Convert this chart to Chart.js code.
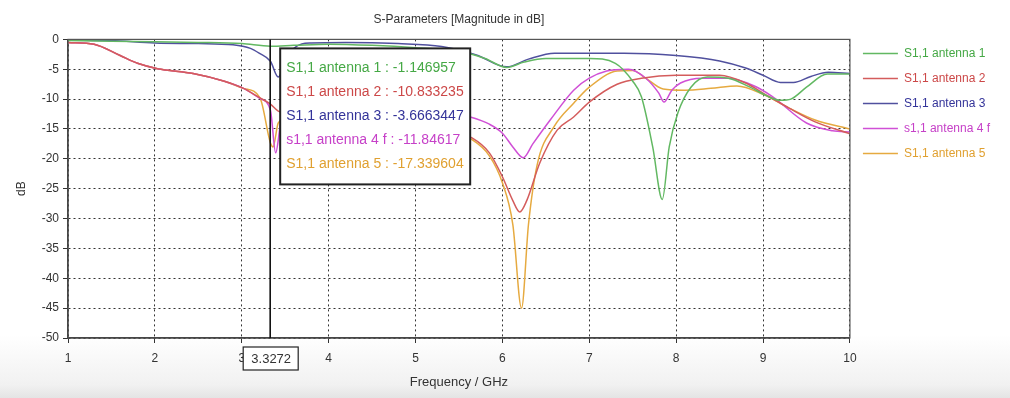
<!DOCTYPE html>
<html>
<head>
<meta charset="utf-8">
<script src="https://cdn.jsdelivr.net/npm/chart.js"></script>
<style>
  html, body { margin: 0; padding: 0; }
  body { width: 1010px; height: 398px; overflow: hidden;
         background: linear-gradient(to bottom, #fff 0px, #fff 335px, #f1f1f1 385px, #e4e4e4 398px); }
</style>
</head>
<body>
<canvas id="myChart" width="1010" height="398"></canvas>
<script>
// S11 curves (GHz / dB)
const ant1Freq = [1, 1.5, 2, 2.5, 3, 3.33, 3.6, 4, 4.5, 5, 5.5, 5.8, 6.05, 6.25, 6.5, 7.0, 7.3, 7.5, 7.6, 7.73, 7.84, 7.92, 8.02, 8.17, 8.36, 8.6, 8.85, 9.05, 9.2, 9.32, 9.5, 9.74, 10];
const ant1Db   = [-0.2, -0.3, -0.4, -0.5, -0.7, -1.15, -1.0, -0.8, -1.0, -1.4, -2.0, -3.2, -4.7, -3.8, -3.2, -3.2, -4.0, -7.0, -9.6, -18, -26.8, -18, -12.3, -8.0, -6.3, -6.5, -8.0, -9.5, -10.2, -10.0, -8.0, -5.8, -5.8];

const ant2Freq = [1, 1.3, 1.6, 1.8, 2.03, 2.44, 2.8, 3.02, 3.21, 3.33, 3.42, 3.6, 4, 4.5, 5, 5.4, 5.65, 5.85, 6.0, 6.12, 6.2, 6.28, 6.43, 6.63, 6.82, 7.0, 7.32, 7.6, 8.0, 8.5, 8.8, 9.0, 9.3, 9.6, 10];
const ant2Db   = [-0.5, -0.8, -2.7, -4.0, -4.9, -5.7, -7.0, -8.2, -9.8, -10.83, -12.0, -12.5, -12.8, -13.2, -14.0, -15.3, -16.5, -19.0, -23.0, -27.0, -28.9, -27.0, -20.7, -15.2, -13.0, -10.5, -7.5, -6.5, -6.0, -6.0, -7.3, -9.0, -11.5, -13.8, -15.8];

const ant3Freq = [1, 1.5, 2, 2.5, 2.9, 3.1, 3.2, 3.33, 3.42, 3.5, 3.6, 3.8, 4.2, 4.8, 5.3, 5.7, 6.05, 6.3, 6.6, 7.4, 8.0, 8.5, 8.8, 9.0, 9.2, 9.35, 9.55, 9.75, 10];
const ant3Db   = [-0.1, -0.2, -0.6, -0.7, -0.9, -1.5, -2.3, -3.67, -6.3, -4.0, -1.5, -0.6, -0.5, -0.7, -1.2, -2.6, -4.6, -3.3, -2.3, -2.3, -2.7, -3.6, -4.8, -6.0, -7.2, -7.2, -6.2, -5.5, -5.7];

const ant4Freq = [1, 1.3, 1.6, 1.8, 2.03, 2.44, 2.8, 3.02, 3.21, 3.33, 3.39, 3.45, 3.6, 4, 4.5, 5, 5.4, 5.63, 5.85, 6.0, 6.12, 6.24, 6.35, 6.55, 6.82, 7.0, 7.2, 7.45, 7.65, 7.8, 7.86, 7.95, 8.05, 8.3, 8.6, 8.9, 9.1, 9.5, 9.8, 10];
const ant4Db   = [-0.5, -0.8, -2.7, -4.0, -4.9, -5.7, -7.0, -8.2, -9.9, -11.85, -19.0, -14.0, -11.5, -10.8, -11.0, -11.6, -12.3, -13.0, -14.2, -15.7, -18.0, -19.8, -17.5, -13.5, -8.5, -6.5, -5.3, -5.0, -6.5, -9.0, -10.5, -8.5, -7.3, -6.5, -6.5, -7.8, -9.5, -14.0, -15.3, -15.5];

const ant5Freq = [1, 1.3, 1.6, 1.8, 2.03, 2.44, 2.8, 3.02, 3.21, 3.33, 3.36, 3.42, 3.55, 4, 4.5, 5, 5.4, 5.65, 5.85, 6.0, 6.12, 6.22, 6.3, 6.4, 6.6, 6.82, 7.0, 7.32, 7.5, 7.65, 7.85, 8.1, 8.4, 8.7, 9.0, 9.3, 9.6, 10];
const ant5Db   = [-0.5, -0.8, -2.7, -4.0, -4.9, -5.7, -7.0, -8.2, -9.8, -17.34, -18.0, -14.0, -13.0, -13.0, -13.5, -14.3, -15.5, -16.8, -19.5, -24.0, -31.0, -45.0, -31.0, -21.0, -14.5, -10.7, -8.0, -5.3, -5.2, -6.5, -8.3, -8.5, -8.2, -7.8, -9.2, -11.5, -13.5, -15.0];

const seriesNames = ["S1,1 antenna 1", "S1,1 antenna 2", "S1,1 antenna 3", "s1,1 antenna 4 f", "S1,1 antenna 5"];
const lineColors  = ["#62b862", "#d45c5c", "#50509e", "#d050d6", "#e6aa40"];
const textColors  = ["#45a845", "#cc4848", "#333399", "#c640c8", "#e0a030"];

const markerFreq   = 3.3272;
const markerValues = ["-1.146957", "-10.833235", "-3.6663447", "-11.84617", "-17.339604"];

const freqRange = [1, 10];
const dbRange   = [-50, 0];

const allFreq = [ant1Freq, ant2Freq, ant3Freq, ant4Freq, ant5Freq];
const allDb   = [ant1Db, ant2Db, ant3Db, ant4Db, ant5Db];

const fontFam = '"Liberation Sans", Arial, sans-serif';

var datasets = [];
for (let i = 0; i < seriesNames.length; i++) {
    var pts = [];
    for (let j = 0; j < allFreq[i].length; j++) {
        pts.push({ x: allFreq[i][j], y: allDb[i][j] });
    }
    datasets.push({
        label: seriesNames[i],
        data: pts,
        borderColor: lineColors[i],
        backgroundColor: lineColors[i],
        borderWidth: 1.5,
        pointRadius: 0,
        cubicInterpolationMode: 'monotone',
        fill: false
    });
}

// frame, marker line, marker value box
const markerPlugin = {
    id: 'marker',
    afterLayout(chart) {
        chart.legend.top -= 5;
        chart.legend.bottom -= 5;
    },
    afterDraw(chart) {
        const ctx = chart.ctx;
        const a = chart.chartArea;
        const px = chart.scales.x.getPixelForValue(markerFreq);
        ctx.save();

        ctx.strokeStyle = '#555';
        ctx.lineWidth = 1.2;
        ctx.strokeRect(a.left, a.top, a.right - a.left, a.bottom - a.top);

        ctx.strokeStyle = '#111';
        ctx.lineWidth = 1.6;
        ctx.beginPath();
        ctx.moveTo(px, a.top);
        ctx.lineTo(px, a.bottom);
        ctx.stroke();

        // frequency label on the x axis
        ctx.fillStyle = '#fff';
        ctx.fillRect(px - 27, a.bottom + 9, 55, 23);
        ctx.strokeStyle = '#222';
        ctx.lineWidth = 1.2;
        ctx.strokeRect(px - 27, a.bottom + 9, 55, 23);
        ctx.fillStyle = '#333';
        ctx.font = '13px ' + fontFam;
        ctx.textAlign = 'center';
        ctx.textBaseline = 'middle';
        ctx.fillText(String(markerFreq), px + 1, a.bottom + 21);

        // value box
        const bx = px + 10, by = a.top + 9, bw = 190, bh = 136;
        ctx.fillStyle = '#fff';
        ctx.fillRect(bx, by, bw, bh);
        ctx.strokeStyle = '#222';
        ctx.lineWidth = 2;
        ctx.strokeRect(bx, by, bw, bh);
        ctx.font = '14px ' + fontFam;
        ctx.textAlign = 'left';
        for (let i = 0; i < seriesNames.length; i++) {
            ctx.fillStyle = textColors[i];
            ctx.fillText(seriesNames[i] + ' : ' + markerValues[i], bx + 6, by + 20 + i * 24);
        }
        ctx.restore();
    }
};

new Chart("myChart", {
    type: "line",
    data: { datasets: datasets },
    options: {
        responsive: false,
        animation: false,
        events: [],
        layout: { padding: { left: 0, right: 10, top: 0, bottom: 0 } },
        plugins: {
            tooltip: { enabled: false },
            title: {
                display: true,
                text: "S-Parameters [Magnitude in dB]",
                fullSize: false,
                color: '#333',
                font: { family: fontFam, size: 12, weight: 'normal' },
                padding: { top: 12, bottom: 13 }
            },
            legend: {
                position: 'right',
                align: 'start',
                fullSize: false,
                labels: {
                    usePointStyle: true,
                    pointStyle: 'line',
                    pointStyleWidth: 35,
                    padding: 13,
                    font: { family: fontFam, size: 12 },
                    generateLabels(chart) {
                        const items = Chart.defaults.plugins.legend.labels.generateLabels(chart);
                        items.forEach((it, i) => { it.fontColor = textColors[i]; it.pointStyle = 'line'; });
                        return items;
                    }
                }
            }
        },
        scales: {
            x: {
                type: 'linear',
                min: freqRange[0],
                max: freqRange[1],
                afterFit(s) { s.height = 60; },
                ticks: { stepSize: 1, color: '#333', padding: 8, font: { family: fontFam, size: 12 } },
                grid: { color: '#333', lineWidth: 1, tickLength: 5, tickColor: '#333', tickBorderDash: [] },
                border: { display: true, color: '#333', width: 1.5, dash: [2, 3] },
                title: { display: true, text: 'Frequency / GHz', color: '#333', font: { family: fontFam, size: 13 }, padding: { top: 0, bottom: 8 } }
            },
            y: {
                type: 'linear',
                min: dbRange[0],
                max: dbRange[1],
                afterFit(s) { s.width = 68; },
                ticks: { stepSize: 5, color: '#333', padding: 4, font: { family: fontFam, size: 12 } },
                grid: { color: '#333', lineWidth: 1, tickLength: 5, tickColor: '#333', tickBorderDash: [] },
                border: { display: true, color: '#333', width: 1.5, dash: [2, 3] },
                title: { display: true, text: 'dB', color: '#333', font: { family: fontFam, size: 12 }, padding: { top: 14, bottom: 0 } }
            }
        }
    },
    plugins: [markerPlugin]
});
</script>
</body>
</html>
